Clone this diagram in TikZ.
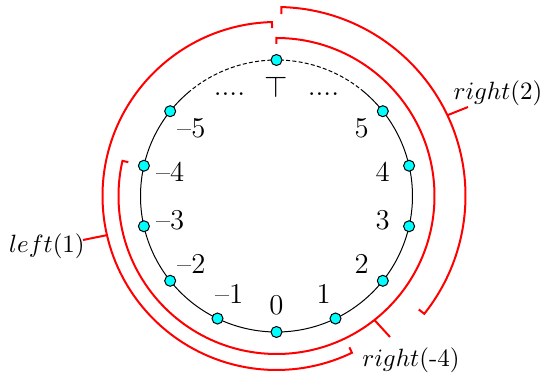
\documentclass[tikz,border=0pt]{standalone}
\definecolor{cy}{rgb}{0,1,1}
\begin{document}
\begin{tikzpicture}[x=0.4pt,y=0.4pt,
  dot/.style={circle,draw=black,fill=cy,line width=0.4pt,minimum size=4.4pt,inner sep=0pt},
  numlab/.style={inner sep=0pt,font=\fontsize{11.5pt}{14pt}\selectfont},
  arclab/.style={inner sep=0pt},
  redarc/.style={red,line width=0.8pt},
  circ/.style={black,line width=0.4pt}]
\useasboundingbox (-276.5,-183) rectangle (264.5,196);
% black circle
\draw[circ] (130:136) arc[start angle=130,end angle=410,radius=136];
\draw[circ,dash pattern=on 1.6pt off 0.9pt] (50:136) arc[start angle=50,end angle=130,radius=136];
% position nodes
\foreach \k in {-5,...,5}{
  \node[dot] (p\k) at ({270+\k*360/14}:136) {};
}
\node[dot] (ptop) at (90:136) {};
% labels
\foreach \k in {0,...,5}{
  \node[numlab] (l\k) at ({270+\k*360/14}:109) {\k};
}
\foreach \k in {1,...,5}{
  \node[numlab] (lm\k) at ({270-\k*360/14}:109) {--\k};
}
\node[numlab] (ltop) at (90:109) {$\top$};
\node[numlab] (dotsl) at (-47,102) {....};
\node[numlab] (dotsr) at (47,102) {....};
% red arcs
\draw[redarc] (88.5:182) -- (88.5:189) arc[start angle=88.5,end angle=-38.57,radius=189] -- (-38.57:182);
\draw[redarc] (91.5:168) -- (91.5:174) arc[start angle=91.5,end angle=295.71,radius=174] -- (295.71:168);
\draw[redarc] (90:152) -- (90:158) arc[start angle=90,end angle=-192.86,radius=158] -- (-192.86:152);
% arc labels
\node[arclab] (lr2) at (221.5,102.5) {$right(2)$};
\node[arclab] (ll1) at (-229.5,-50) {$left(1)$};
\node[arclab] (lrm4) at (134.5,-164) {$right$(-4)};
\coordinate (a2) at (25.3:189);
\coordinate (b2) at (191.5,89);
\coordinate (a1) at (193:174);
\coordinate (b1) at (-193.5,-44);
\coordinate (a4) at (-51.7:158);
\coordinate (b4) at (113.5,-141);
\draw[redarc] (a2) -- (b2);
\draw[redarc] (a1) -- (b1);
\draw[redarc] (a4) -- (b4);
\end{tikzpicture}
\end{document}
